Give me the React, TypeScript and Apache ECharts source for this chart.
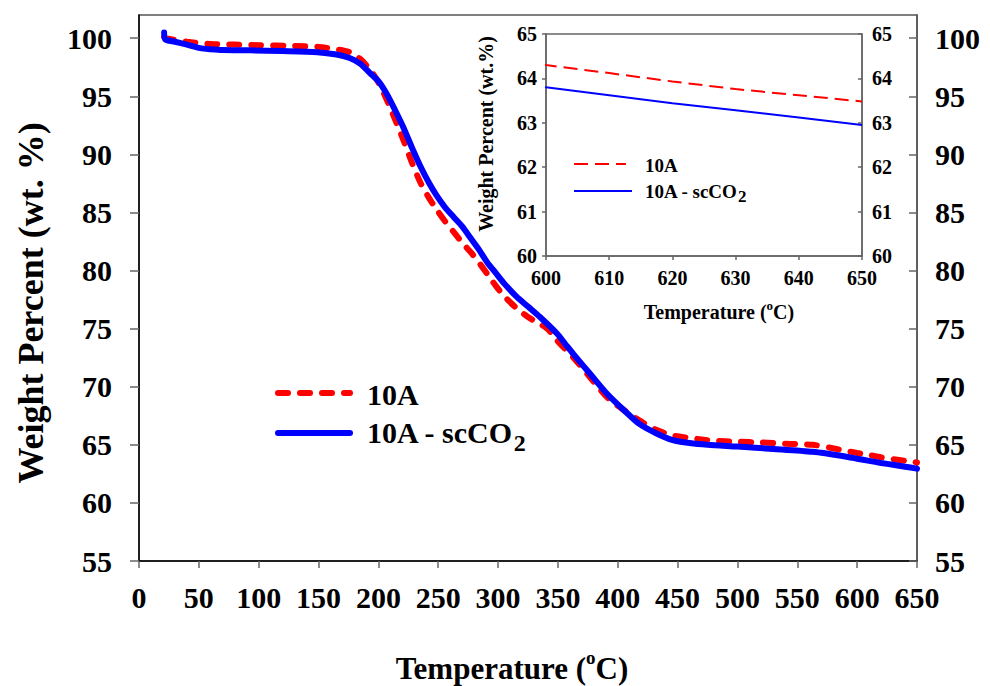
import React, { useEffect, useRef } from "react";
import * as echarts from "echarts";

// TGA curves: temperature (°C) and remaining weight (wt. %)
const temp10A = [21, 22, 30, 40, 60, 80, 100, 130, 150, 165, 176, 185, 193, 200, 207, 214, 221, 228, 235, 242, 249, 256, 263, 270, 277, 284, 291, 298, 305, 315, 325, 341, 350, 363, 377, 391, 405, 418, 432, 446, 460, 480, 500, 520, 540, 563, 585, 600, 610, 620, 630, 640, 650];
const weight10A = [100.1, 100.0, 99.85, 99.7, 99.5, 99.45, 99.4, 99.33, 99.25, 99.05, 98.8, 98.2, 97.3, 96.2, 94.7, 93.0, 91.2, 89.3, 87.6, 86.3, 85.2, 84.2, 83.3, 82.4, 81.6, 80.7, 79.7, 78.7, 77.8, 76.8, 76.0, 75.0, 73.9, 72.5, 70.8, 69.1, 68.0, 67.1, 66.3, 65.8, 65.6, 65.35, 65.27, 65.2, 65.1, 65.0, 64.6, 64.3, 64.12, 63.93, 63.76, 63.62, 63.48];

const tempSc = [21, 22, 30, 40, 51, 60, 70, 93, 120, 149, 165, 176, 185, 193, 200, 207, 214, 221, 228, 235, 242, 249, 256, 263, 270, 277, 284, 291, 298, 305, 315, 325, 335, 349, 356, 363, 377, 391, 405, 418, 432, 446, 460, 475, 500, 530, 563, 590, 600, 610, 620, 630, 640, 650];
const weightSc = [100.5, 99.9, 99.7, 99.45, 99.15, 99.05, 98.98, 98.96, 98.9, 98.8, 98.6, 98.3, 97.8, 97.0, 96.3, 95.2, 93.8, 92.3, 90.6, 89.0, 87.6, 86.4, 85.4, 84.6, 83.8, 82.8, 81.8, 80.7, 79.8, 78.9, 77.8, 76.9, 76.0, 74.6, 73.7, 72.8, 71.1, 69.4, 68.0, 66.8, 66.0, 65.4, 65.15, 65.0, 64.85, 64.65, 64.4, 64.0, 63.8, 63.62, 63.44, 63.28, 63.12, 62.95];

// Tick values
const mainYTicks = [55, 60, 65, 70, 75, 80, 85, 90, 95, 100];
const mainXRange = [0, 650, 50];
const insetXRange = [600, 650, 10];
const insetYRange = [60, 65, 1];

const FONT = '"Liberation Serif", "Times New Roman", serif';
const RED = "#ff0000";
const BLUE = "#0000ff";

const zip = (xs: number[], ys: number[]) => xs.map((x, i) => [x, ys[i]]);

const bold = (size: number) => ({
  fontFamily: FONT,
  fontWeight: "bold" as const,
  fontSize: size,
  color: "#000",
});

export default function App() {
  const ref = useRef<HTMLDivElement>(null);

  useEffect(() => {
    if (!ref.current) return;
    const chart = echarts.init(ref.current, null, { renderer: "svg" });

    const data10A = zip(temp10A, weight10A);
    const dataSc = zip(tempSc, weightSc);

    const frameLine = (color: string) => ({ show: true, onZero: false, lineStyle: { color, width: 1.5 } });
    const tick = (inside: boolean, length: number, extra: any = {}) => ({
      show: true,
      inside,
      length,
      lineStyle: { color: "#666", width: 1.5 },
      ...extra,
    });

    const option: any = {
      animation: false,
      backgroundColor: "#fff",
      grid: [
        { left: 139, top: 15, right: 73, bottom: 125, show: true, borderColor: "#555", borderWidth: 1.5, backgroundColor: "transparent" },
        { left: 546, top: 34, right: 128, bottom: 430, show: true, borderColor: "#666", borderWidth: 1.5, backgroundColor: "#fff" },
      ],
      xAxis: [
        {
          gridIndex: 0,
          type: "value",
          min: mainXRange[0],
          max: mainXRange[1],
          interval: mainXRange[2],
          axisLine: frameLine("#000"),
          axisTick: tick(false, 7),
          axisLabel: { ...bold(30), margin: 21 },
          splitLine: { show: false },
        },
        {
          gridIndex: 1,
          type: "value",
          min: insetXRange[0],
          max: insetXRange[1],
          interval: insetXRange[2],
          axisLine: frameLine("#666"),
          axisTick: tick(false, 4),
          axisLabel: { ...bold(20), margin: 12 },
          splitLine: { show: false },
        },
      ],
      yAxis: [
        {
          gridIndex: 0,
          type: "value",
          position: "left",
          min: 55,
          max: 102,
          axisLine: frameLine("#000"),
          axisTick: tick(false, 9, { customValues: mainYTicks }),
          axisLabel: { ...bold(30), margin: 27, customValues: mainYTicks },
          splitLine: { show: false },
        },
        {
          gridIndex: 0,
          type: "value",
          position: "right",
          min: 55,
          max: 102,
          axisLine: frameLine("#555"),
          axisTick: tick(true, 8, { customValues: mainYTicks }),
          axisLabel: { ...bold(30), margin: 18, customValues: mainYTicks },
          splitLine: { show: false },
        },
        {
          gridIndex: 1,
          type: "value",
          position: "left",
          min: insetYRange[0],
          max: insetYRange[1],
          interval: insetYRange[2],
          axisLine: frameLine("#666"),
          axisTick: tick(false, 4),
          axisLabel: { ...bold(20), margin: 9 },
          splitLine: { show: false },
        },
        {
          gridIndex: 1,
          type: "value",
          position: "right",
          min: insetYRange[0],
          max: insetYRange[1],
          interval: insetYRange[2],
          axisLine: frameLine("#666"),
          axisTick: tick(true, 4),
          axisLabel: { ...bold(20), margin: 10 },
          splitLine: { show: false },
        },
      ],
      series: [
        {
          name: "10A",
          type: "line",
          xAxisIndex: 0,
          yAxisIndex: 0,
          data: data10A,
          showSymbol: false,
          symbol: "none",
          smooth: 0.25,
          lineStyle: { color: RED, width: 6, type: [10, 12], cap: "round" },
          z: 2,
        },
        {
          name: "10A - scCO2",
          type: "line",
          xAxisIndex: 0,
          yAxisIndex: 0,
          data: dataSc,
          showSymbol: false,
          symbol: "none",
          smooth: 0.25,
          lineStyle: { color: BLUE, width: 6, cap: "round" },
          z: 3,
        },
        {
          name: "10A inset",
          type: "line",
          xAxisIndex: 1,
          yAxisIndex: 2,
          data: data10A,
          showSymbol: false,
          symbol: "none",
          clip: true,
          lineStyle: { color: RED, width: 2, type: [14, 7] },
          z: 4,
        },
        {
          name: "10A - scCO2 inset",
          type: "line",
          xAxisIndex: 1,
          yAxisIndex: 3,
          data: dataSc,
          showSymbol: false,
          symbol: "none",
          clip: true,
          lineStyle: { color: BLUE, width: 2 },
          z: 4,
        },
      ],
      graphic: [
        // axis titles, main chart
        {
          type: "text",
          x: 31,
          y: 303,
          rotation: Math.PI / 2,
          style: { text: "Weight Percent (wt. %)", font: `bold 36px ${FONT}`, fill: "#000", align: "center", verticalAlign: "middle" },
        },
        {
          type: "text",
          x: 512,
          y: 668,
          style: {
            text: "{n|Temperature (}{s|o}{n|C)}",
            align: "center",
            verticalAlign: "middle",
            fill: "#000",
            rich: {
              n: { fontFamily: FONT, fontWeight: "bold", fontSize: 31, lineHeight: 40, fill: "#000" },
              s: { fontFamily: FONT, fontWeight: "bold", fontSize: 19, lineHeight: 20, verticalAlign: "top", fill: "#000" },
            },
          },
        },
        // axis titles, inset
        {
          type: "text",
          x: 486,
          y: 134,
          rotation: Math.PI / 2,
          style: { text: "Weight Percent (wt.%)", font: `bold 20px ${FONT}`, fill: "#000", align: "center", verticalAlign: "middle" },
        },
        {
          type: "text",
          x: 719,
          y: 312,
          style: {
            text: "{n|Temperature (}{s|o}{n|C)}",
            align: "center",
            verticalAlign: "middle",
            fill: "#000",
            rich: {
              n: { fontFamily: FONT, fontWeight: "bold", fontSize: 20, lineHeight: 26, fill: "#000" },
              s: { fontFamily: FONT, fontWeight: "bold", fontSize: 13, lineHeight: 12, verticalAlign: "top", fill: "#000" },
            },
          },
        },
        // main legend
        {
          type: "line",
          shape: { x1: 278, y1: 393, x2: 350, y2: 393 },
          style: { stroke: RED, lineWidth: 6, lineDash: [10, 12], lineCap: "round" },
        },
        {
          type: "line",
          shape: { x1: 278, y1: 433, x2: 350, y2: 433 },
          style: { stroke: BLUE, lineWidth: 6, lineCap: "round" },
        },
        {
          type: "text",
          x: 367,
          y: 394,
          style: { text: "10A", font: `bold 30px ${FONT}`, fill: "#000", align: "left", verticalAlign: "middle" },
        },
        {
          type: "text",
          x: 367,
          y: 432,
          style: {
            text: "{n|10A - scCO}{s|2}",
            align: "left",
            verticalAlign: "middle",
            fill: "#000",
            rich: {
              n: { fontFamily: FONT, fontWeight: "bold", fontSize: 30, lineHeight: 46, fill: "#000" },
              s: { fontFamily: FONT, fontWeight: "bold", fontSize: 24, lineHeight: 22, verticalAlign: "bottom", fill: "#000" },
            },
          },
        },
        // inset legend
        {
          type: "line",
          shape: { x1: 574, y1: 164, x2: 626, y2: 164 },
          style: { stroke: RED, lineWidth: 2, lineDash: [14, 7] },
        },
        {
          type: "line",
          shape: { x1: 574, y1: 191, x2: 632, y2: 191 },
          style: { stroke: BLUE, lineWidth: 2 },
        },
        {
          type: "text",
          x: 645,
          y: 165,
          style: { text: "10A", font: `bold 19px ${FONT}`, fill: "#000", align: "left", verticalAlign: "middle" },
        },
        {
          type: "text",
          x: 645,
          y: 191,
          style: {
            text: "{n|10A - scCO}{s|2}",
            align: "left",
            verticalAlign: "middle",
            fill: "#000",
            rich: {
              n: { fontFamily: FONT, fontWeight: "bold", fontSize: 19, lineHeight: 28, fill: "#000" },
              s: { fontFamily: FONT, fontWeight: "bold", fontSize: 17, lineHeight: 12, verticalAlign: "bottom", fill: "#000" },
            },
          },
        },
      ],
    };

    chart.setOption(option);
    return () => chart.dispose();
  }, []);

  return (
    <div
      ref={ref}
      style={{ position: "absolute", left: 0, top: 0, width: 990, height: 686, background: "#fff" }}
    />
  );
}
